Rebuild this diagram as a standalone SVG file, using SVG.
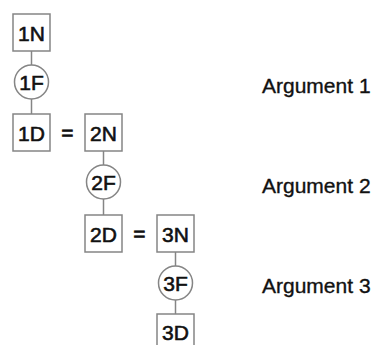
<svg xmlns="http://www.w3.org/2000/svg" width="376" height="345" viewBox="0 0 376 345">
<style>
.box{fill:#fff;stroke:#858585;stroke-width:1.5}
.circ{fill:#fff;stroke:#858585;stroke-width:1.5}
.lbl{font-family:"Liberation Sans",Arial,sans-serif;font-size:21px;fill:#111;stroke:#111;stroke-width:0.6;text-anchor:middle}
.arg{font-family:"Liberation Sans",Arial,sans-serif;font-size:21px;fill:#111;stroke:#111;stroke-width:0.35}
.conn line{stroke:#858585;stroke-width:1.5}
</style>
<rect width="376" height="345" fill="#fff"/>
<g class="conn" id="connectors">
<line x1="31.5" y1="51" x2="31.5" y2="65"/>
<line x1="31.5" y1="99" x2="31.5" y2="114"/>
<line x1="103.5" y1="151" x2="103.5" y2="165"/>
<line x1="103.5" y1="199" x2="103.5" y2="215"/>
<line x1="175.5" y1="252" x2="175.5" y2="266"/>
<line x1="175.5" y1="300" x2="175.5" y2="314"/>
</g>
<g id="n1N"><rect class="box" x="13" y="14" width="37" height="37"/><text class="lbl" x="31.5" y="40.5">1N</text></g>
<g id="n1F"><circle class="circ" cx="31.5" cy="82" r="17"/><text class="lbl" x="31.5" y="89.5">1F</text></g>
<g id="n1D"><rect class="box" x="13" y="114" width="37" height="37"/><text class="lbl" x="31.5" y="140.5">1D</text></g>
<g id="eq1"><text class="lbl" x="67.5" y="140">=</text></g>
<g id="n2N"><rect class="box" x="85" y="114" width="37" height="37"/><text class="lbl" x="103.5" y="140.5">2N</text></g>
<g id="n2F"><circle class="circ" cx="103.5" cy="182" r="17"/><text class="lbl" x="103.5" y="189.5">2F</text></g>
<g id="n2D"><rect class="box" x="85" y="215" width="37" height="37"/><text class="lbl" x="103.5" y="241.5">2D</text></g>
<g id="eq2"><text class="lbl" x="139.5" y="241">=</text></g>
<g id="n3N"><rect class="box" x="157" y="215" width="37" height="37"/><text class="lbl" x="175.5" y="241.5">3N</text></g>
<g id="n3F"><circle class="circ" cx="175.5" cy="283" r="17"/><text class="lbl" x="175.5" y="290.5">3F</text></g>
<g id="n3D"><rect class="box" x="157" y="314" width="37" height="37"/><text class="lbl" x="175.5" y="339.5">3D</text></g>
<g id="labels">
<text class="arg" x="262" y="93">Argument 1</text>
<text class="arg" x="262" y="193">Argument 2</text>
<text class="arg" x="262" y="293">Argument 3</text>
</g>
</svg>
